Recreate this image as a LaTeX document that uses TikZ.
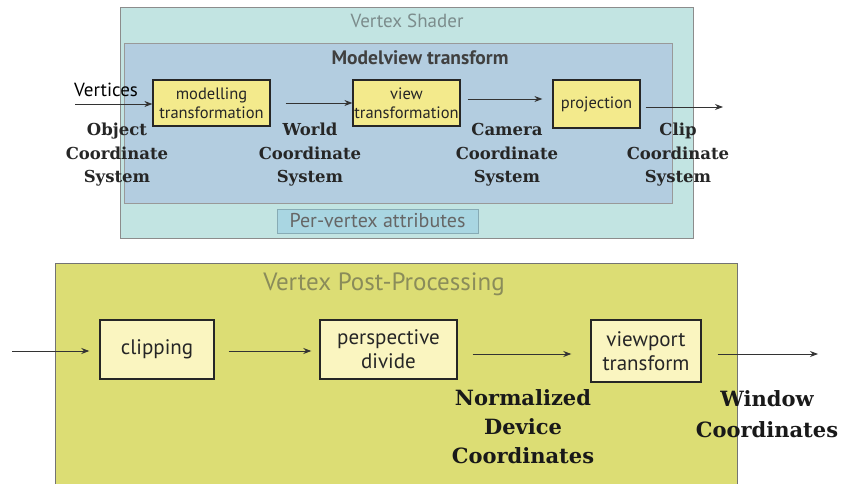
\documentclass[tikz,border=0pt]{standalone}
\usepackage{fontspec}
\setmainfont{Liberation Serif}
\newfontfamily\boxfont{PT Sans}
\newfontfamily\labfont{DejaVu Serif}
\usetikzlibrary{arrows.meta}
\definecolor{shaderbg}{HTML}{C2E4E2}
\definecolor{mvbg}{HTML}{B3CDE0}
\definecolor{attrbg}{HTML}{A9D6E2}
\definecolor{ybox}{HTML}{F3EA8C}
\definecolor{pbox}{HTML}{FAF5C0}
\definecolor{postbg}{HTML}{DCDD74}
\definecolor{greytxt}{HTML}{7C8C8C}
\definecolor{olivetxt}{HTML}{8A8C5A}
\tikzset{
  tbox/.style={draw=black!85, line width=1.2pt, fill=ybox, inner sep=0pt, align=center, font=\boxfont\fontsize{16.5}{19}\selectfont, text=black!85},
  bbox/.style={draw=black!85, line width=1.4pt, fill=pbox, inner sep=0pt, align=center, font=\boxfont\fontsize{21}{24}\selectfont, text=black!85},
  flow/.style={-{Stealth[length=8pt,width=6pt]}, line width=0.9pt, draw=black!80},
  toplab/.style={align=center, font=\labfont\bfseries\fontsize{16.5}{23.5}\selectfont, text=black!85},
  botlab/.style={align=center, font=\labfont\bfseries\fontsize{21}{29}\selectfont, text=black!90}
}
\begin{document}
\begin{tikzpicture}[x=1pt,y=-1pt]
\useasboundingbox (0,0) rectangle (846,484);
% top region
\node[draw=black!45, line width=0.8pt, fill=shaderbg, minimum width=573pt, minimum height=231pt, anchor=north west, inner sep=0pt] (shader) at (120,7) {};
\node[text=greytxt, font=\boxfont\fontsize{19}{22}\selectfont] (shadertitle) at (407,21) {Vertex Shader};
\node[draw=black!40, line width=0.6pt, fill=mvbg, minimum width=548pt, minimum height=160pt, anchor=north west, inner sep=0pt] (mv) at (124,43) {};
\node[font=\boxfont\bfseries\fontsize{19.5}{22}\selectfont, text=black!75] (mvtitle) at (420,58) {Modelview transform};
\node[draw=attrbg!80!black, line width=0.5pt, fill=attrbg, minimum width=201pt, minimum height=24pt, anchor=north west, inner sep=0pt] (attr) at (277,209) {};
\node[text=black!60, font=\boxfont\fontsize{20}{23}\selectfont] (attrtext) at (377.5,221) {Per-vertex attributes};
% top boxes
\node[tbox, minimum width=117pt, minimum height=46pt] (model) at (211.5,103) {modelling\\transformation};
\node[tbox, minimum width=107pt, minimum height=46pt] (view) at (406.5,103) {view\\transformation};
\node[tbox, minimum width=87pt, minimum height=48pt] (proj) at (596.5,104) {projection};
\coordinate (vin) at (75,104);
\coordinate (cout) at (723,107);
\node[font=\boxfont\fontsize{19}{22}\selectfont, anchor=south west, inner sep=0pt] (vtext) at (74,97) {Vertices};
\draw[flow] (vin) -- (model.west|-vin);
\draw[flow] (model.east) ++(15,0) coordinate (a1) (a1) -- (view.west|-a1);
\draw[flow] ([xshift=7pt,yshift=4pt]view.east) coordinate (a2) -- ([xshift=-10pt]proj.west|-a2);
\draw[flow] ([xshift=5pt]proj.east|-cout) -- (cout);
% top labels
\node[toplab] (objlab) at (117,155) {Object\\Coordinate\\System};
\node[toplab] (worldlab) at (310,155) {World\\Coordinate\\System};
\node[toplab] (camlab) at (507,155) {Camera\\Coordinate\\System};
\node[toplab] (cliplab) at (678,155) {Clip\\Coordinate\\System};
% bottom region
\node[draw=black!55, line width=0.8pt, fill=postbg, minimum width=682pt, minimum height=240pt, anchor=north west, inner sep=0pt] (post) at (55,263) {};
\node[text=olivetxt, font=\boxfont\fontsize{25}{28}\selectfont] (posttitle) at (384,284) {Vertex Post-Processing};
\node[bbox, minimum width=114pt, minimum height=59pt] (clip) at (157,349.5) {clipping};
\node[bbox, minimum width=137pt, minimum height=59pt] (persp) at (388.5,349.5) {perspective\\divide};
\node[bbox, minimum width=110pt, minimum height=62pt] (vport) at (646,351) {viewport\\transform};
\coordinate (pin) at (12,351);
\coordinate (wout) at (818,354);
\draw[flow] (pin) -- ([xshift=-10pt]clip.west|-pin);
\draw[flow] ([xshift=14pt]clip.east|-pin) -- ([xshift=-8pt]persp.west|-pin);
\draw[flow] ([xshift=15pt]persp.east|-wout) coordinate (b2) -- ([xshift=-19pt]vport.west|-b2);
\draw[flow] ([xshift=16pt]vport.east|-wout) -- (wout);
\node[botlab] (ndclab) at (523,427) {Normalized\\Device\\Coordinates};
\node[botlab, font=\labfont\bfseries\fontsize{21}{31}\selectfont] (winlab) at (767,414) {Window\\Coordinates};
\end{tikzpicture}
\end{document}
